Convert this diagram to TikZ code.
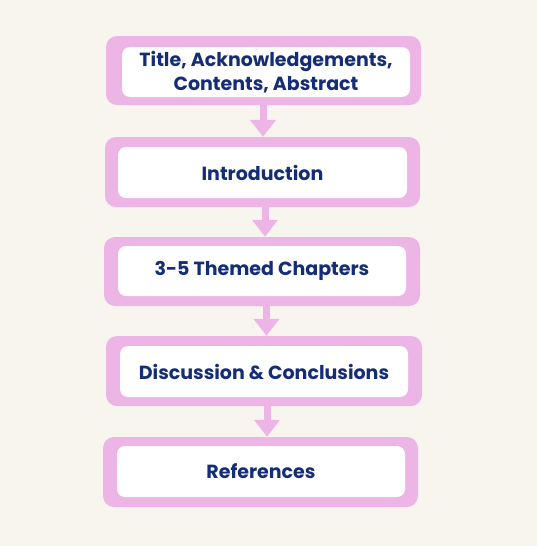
\documentclass[tikz,border=0pt]{standalone}
\usepackage{fontspec}
\setmainfont{Poppins}[UprightFont=* Bold, BoldFont=* Bold]
\usetikzlibrary{arrows.meta}
\definecolor{bgc}{HTML}{F8F5EF}
\definecolor{pinkc}{HTML}{EDB4E6}
\definecolor{navyc}{HTML}{142D75}
\tikzset{
  outerbox/.style={fill=pinkc, rounded corners=11pt},
  innerbox/.style={fill=white, rounded corners=8pt},
  lbl/.style={text=navyc, font=\fontsize{19}{24}\selectfont, align=center},
  conn/.style={draw=pinkc, line width=7pt, -{Triangle[width=25pt,length=17pt]}, shorten >=0pt}
}
\begin{document}
\begin{tikzpicture}[x=1pt,y=-1pt]
\fill[bgc] (0,0) rectangle (537,546);
\useasboundingbox (0,0) rectangle (537,546);
% box 1
\node[outerbox, minimum width=315pt, minimum height=69pt] (o1) at (263.5,70.5) {};
\node[innerbox, minimum width=288pt, minimum height=50pt] (b1) at (266,72) {};
\node[lbl] (t1) at (b1.center) {Title, Acknowledgements,\\Contents, Abstract};
% box 2
\node[outerbox, minimum width=315pt, minimum height=70pt] (o2) at (262.5,172) {};
\node[innerbox, minimum width=289pt, minimum height=51pt] (b2) at (262.5,172.5) {};
\node[lbl] (t2) at (b2.center) {Introduction};
% box 3
\node[outerbox, minimum width=316pt, minimum height=69pt] (o3) at (262,271.5) {};
\node[innerbox, minimum width=288pt, minimum height=50pt] (b3) at (262,271) {};
\node[lbl] (t3) at (b3.center) {3-5 Themed Chapters};
% box 4
\node[outerbox, minimum width=316pt, minimum height=70pt] (o4) at (264,371) {};
\node[innerbox, minimum width=288pt, minimum height=51pt] (b4) at (264,371.5) {};
\node[lbl] (t4) at (b4.center) {Discussion \& Conclusions};
% box 5
\node[outerbox, minimum width=315pt, minimum height=70pt] (o5) at (260.5,472) {};
\node[innerbox, minimum width=288pt, minimum height=51pt] (b5) at (261,471.5) {};
\node[lbl] (t5) at (b5.center) {References};
% connectors
\draw[conn] ([xshift=-0.5pt]o1.south) -- ([xshift=-0.5pt]o1.south |- o2.north);
\draw[conn] ([xshift=2.5pt]o2.south) -- ([xshift=2.5pt]o2.south |- o3.north);
\draw[conn] ([xshift=4.5pt]o3.south) -- ([xshift=4.5pt]o3.south |- o4.north);
\draw[conn] ([xshift=3pt]o4.south) -- ([xshift=3pt]o4.south |- o5.north);
\end{tikzpicture}
\end{document}
